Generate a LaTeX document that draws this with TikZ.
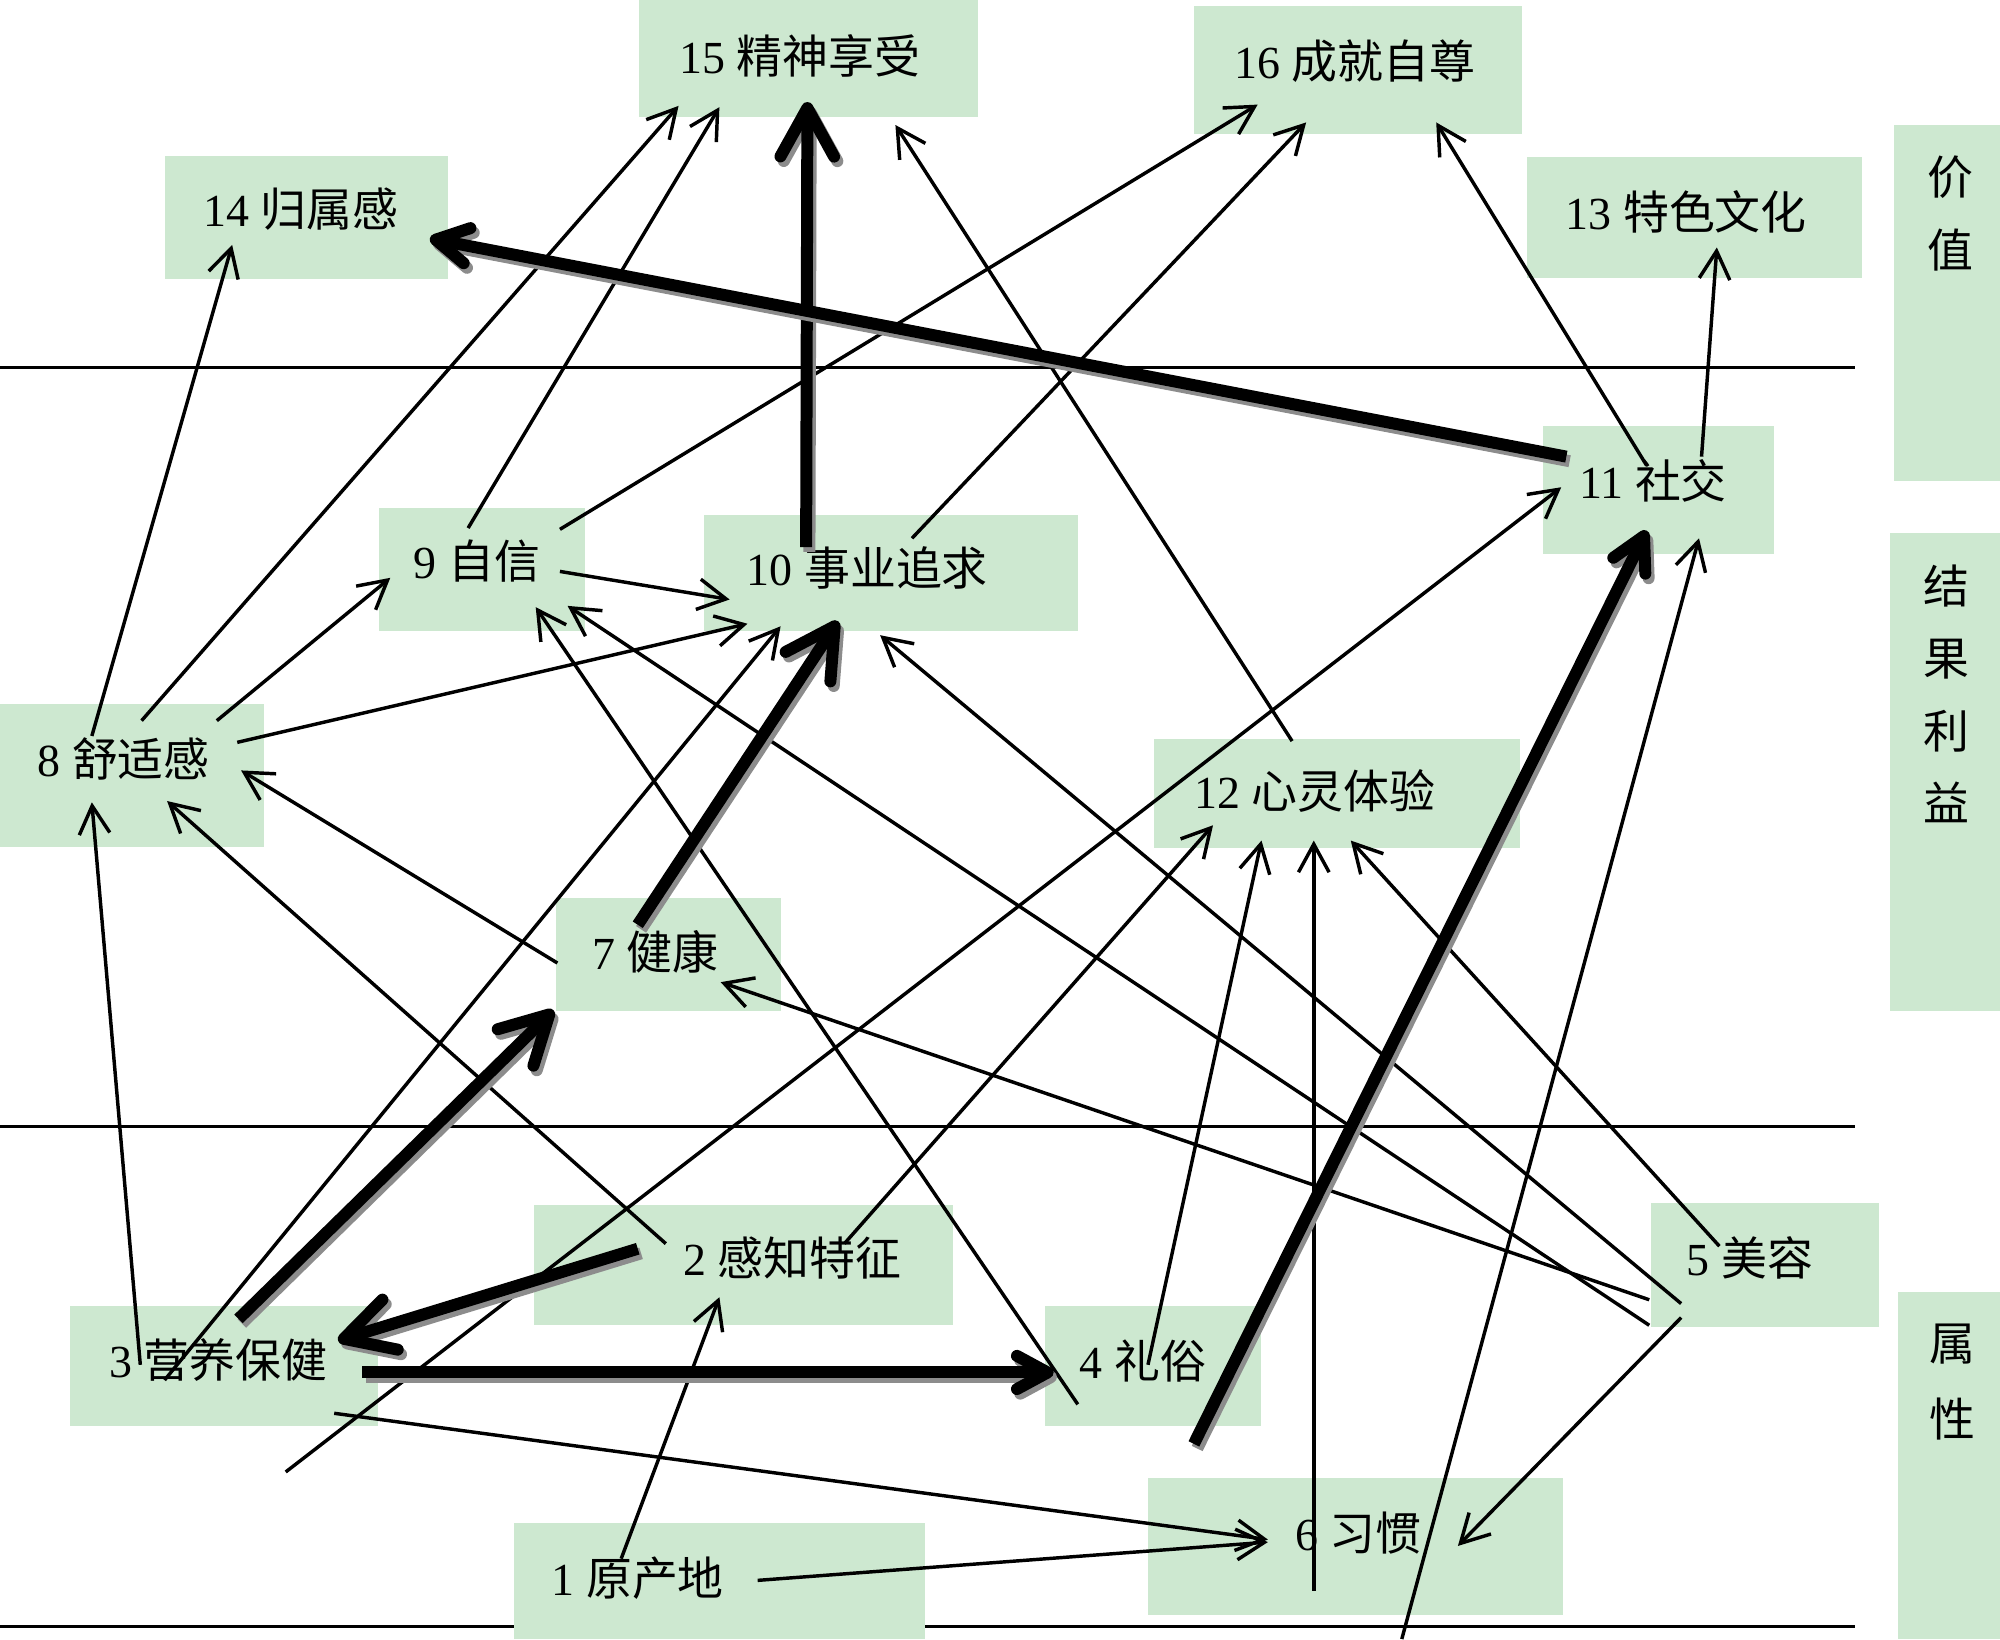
\documentclass[tikz,border=0pt]{standalone}
\usepackage{fontspec}
\setmainfont{Liberation Serif}
\newfontfamily\cjk{Noto Sans CJK SC}
\usetikzlibrary{arrows.meta}
\definecolor{boxgreen}{RGB}{205,232,208}
\definecolor{shadowgray}{RGB}{140,140,140}
\newcommand\mkbox[5]{\node[box, minimum width={(#4-#2)*0.5pt}, minimum height={(#5-#3)*0.5pt}] (#1) at (#2,#3) {};}
\newcommand\tharrow[3]{%
  \draw[thickline, #1, draw=shadowgray, transform canvas={shift={(1.3pt,-1.8pt)}}] #2 -- #3;
  \draw[thickline, #1] #2 -- #3;}
\begin{document}
\begin{tikzpicture}[x=0.5pt,y=-0.5pt,
  box/.style={fill=boxgreen, draw=none, inner sep=0pt, outer sep=0pt, anchor=north west},
  lbl/.style={inner sep=0pt, font=\fontsize{18}{20}\selectfont},
  vlbl/.style={inner sep=0pt, align=center},
  rule/.style={line width=1pt},
  thinarrow/.style={line width=1.35pt, -{Straight Barb[length=11pt,width=12pt]}},
  thickline/.style={line width=4.7pt}]
\useasboundingbox (0,0) rectangle (1568,1285);
% horizontal rules
\coordinate (r1a) at (0,288);   \coordinate (r1b) at (1454,288);
\coordinate (r2a) at (0,883);   \coordinate (r2b) at (1454,883);
\coordinate (r3a) at (0,1275);  \coordinate (r3b) at (1454,1275);
\draw[rule] (r1a) -- (r1b);
\draw[rule] (r2a) -- (r2b);
\draw[rule] (r3a) -- (r3b);
% boxes
\mkbox{b15}{501}{0}{767}{92}
\mkbox{b16}{936}{5}{1193}{105}
\mkbox{b14}{129}{122}{351}{219}
\mkbox{b13}{1197}{123}{1460}{218}
\mkbox{v1}{1485}{98}{1568}{377}
\mkbox{b11}{1210}{334}{1391}{434}
\mkbox{b9}{297}{398}{459}{495}
\mkbox{b10}{552}{404}{845}{495}
\mkbox{b8}{0}{552}{207}{664}
\mkbox{b12}{905}{579}{1192}{665}
\mkbox{v2}{1482}{418}{1568}{793}
\mkbox{b7}{436}{704}{612}{793}
\mkbox{b2}{419}{945}{747}{1039}
\mkbox{b5}{1294}{943}{1473}{1040}
\mkbox{b3}{55}{1024}{296}{1118}
\mkbox{b4}{819}{1024}{989}{1118}
\mkbox{b6}{900}{1159}{1225}{1266}
\mkbox{b1}{403}{1194}{725}{1285}
\mkbox{v3}{1488}{1013}{1568}{1285}
% labels
\node[lbl] (t15) at (627,44) {15 {\cjk 精神享受}};
\node[lbl] (t16) at (1062,48) {16 {\cjk 成就自尊}};
\node[lbl] (t14) at (236,164) {14 {\cjk 归属感}};
\node[lbl] (t13) at (1322,166) {13 {\cjk 特色文化}};
\node[lbl] (t11) at (1296,377) {11 {\cjk 社交}};
\node[lbl] (t9) at (374,440) {9 {\cjk 自信}};
\node[lbl] (t10) at (680,445) {10 {\cjk 事业追求}};
\node[lbl] (t8) at (97,595) {8 {\cjk 舒适感}};
\node[lbl] (t12) at (1031,620) {12 {\cjk 心灵体验}};
\node[lbl] (t7) at (514,746) {7 {\cjk 健康}};
\node[lbl] (t2) at (621,986) {2 {\cjk 感知特征}};
\node[lbl] (t5) at (1372,986) {5 {\cjk 美容}};
\node[lbl] (t3) at (171,1066) {3 {\cjk 营养保健}};
\node[lbl] (t4) at (896,1067) {4 {\cjk 礼俗}};
\node[lbl] (t6) at (1065,1202) {6 {\cjk 习惯}};
\node[lbl] (t1) at (500,1237) {1 {\cjk 原产地}};
\node[vlbl, font=\fontsize{18}{28.5}\selectfont\cjk] (vt1) at (1529,167.5) {价\\值};
\node[vlbl, font=\fontsize{18}{28.4}\selectfont\cjk] (vt2) at (1526,544) {结\\果\\利\\益};
\node[vlbl, font=\fontsize{18}{29.5}\selectfont\cjk] (vt3) at (1531,1083.5) {属\\性};
% free ends
\coordinate (f3) at (224,1154);
\coordinate (fb) at (1099,1285);
% thin arrows
\draw[thinarrow] ([shift={(72,25)}]b8.north west) -- ([shift={(53,70)}]b14.north west);
\draw[thinarrow] ([shift={(111,13)}]b8.north west) -- ([shift={(31,83)}]b15.north west);
\draw[thinarrow] ([shift={(70,16)}]b9.north west) -- ([shift={(63,84)}]b15.north west);
\draw[thinarrow] ([shift={(142,17)}]b9.north west) -- ([shift={(50,77)}]b16.north west);
\draw[thinarrow] ([shift={(163,18)}]b10.north west) -- ([shift={(88,91)}]b16.north west);
\draw[thinarrow] ([shift={(108,2)}]b12.north west) -- ([shift={(201,98)}]b15.north west);
\draw[thinarrow] ([shift={(81,31)}]b11.north west) -- ([shift={(190,91)}]b16.north west);
\draw[thinarrow] ([shift={(124,24)}]b11.north west) -- ([shift={(149,71)}]b13.north west);
\draw[thinarrow] ([shift={(170,13)}]b8.north west) -- ([shift={(9,55)}]b9.north west);
\draw[thinarrow] ([shift={(186,30)}]b8.north west) -- ([shift={(34,85)}]b10.north west);
\draw[thinarrow] ([shift={(142,50)}]b9.north west) -- ([shift={(20,66)}]b10.north west);
\draw[thinarrow] ([shift={(74,58)}]b3.north west) -- ([shift={(60,87)}]b10.north west);
\draw[thinarrow] ([shift={(55,46)}]b3.north west) -- ([shift={(72,77)}]b8.north west);
\draw[thinarrow] ([shift={(103,30)}]b2.north west) -- ([shift={(131,76)}]b8.north west);
\draw[thinarrow] ([shift={(1,51)}]b7.north west) -- ([shift={(189,52)}]b8.north west);
\draw[thinarrow] ([shift={(26,77)}]b4.north west) -- ([shift={(123,78)}]b9.north west);
\draw[thinarrow] ([shift={(-1,96)}]b5.north west) -- ([shift={(148,77)}]b9.north west);
\draw[thinarrow] ([shift={(24,79)}]b5.north west) -- ([shift={(138,94)}]b10.north west);
\draw[thinarrow] ([shift={(-1,76)}]b5.north west) -- ([shift={(129,66)}]b7.north west);
\draw[thinarrow] ([shift={(54,34)}]b5.north west) -- ([shift={(154,80)}]b12.north west);
\draw[thinarrow] ([shift={(24,90)}]b5.north west) -- ([shift={(243,53)}]b6.north west);
\draw[thinarrow] ([shift={(81,46)}]b4.north west) -- ([shift={(84,80)}]b12.north west);
\draw[thinarrow] ([shift={(130,88)}]b6.north west) -- ([shift={(125,80)}]b12.north west);
\draw[thinarrow] ([shift={(243,30)}]b2.north west) -- ([shift={(46,68)}]b12.north west);
\draw[thinarrow] ([shift={(84,28)}]b1.north west) -- ([shift={(145,72)}]b2.north west);
\draw[thinarrow] ([shift={(191,45)}]b1.north west) -- ([shift={(94,50)}]b6.north west);
\draw[thinarrow] ([shift={(207,84)}]b3.north west) -- ([shift={(94,48)}]b6.north west);
\draw[thinarrow] (f3) -- ([shift={(14,48)}]b11.north west);
\draw[thinarrow] (fb) -- ([shift={(122,88)}]b11.north west);
% thick arrows
\tharrow{-{Straight Barb[length=19pt,width=21pt,round]}}{([shift={(80,25)}]b10.north west)}{([shift={(132,80)}]b15.north west)}
\tharrow{-{Straight Barb[length=12.5pt,width=14pt,round]}}{([shift={(18,24)}]b11.north west)}{([shift={(208,65)}]b14.north west)}
\tharrow{-{Straight Barb[length=19pt,width=21pt,round]}}{([shift={(64,21)}]b7.north west)}{([shift={(105,83)}]b10.north west)}
\tharrow{-{Straight Barb[length=18.5pt,width=20pt,round]}}{([shift={(132,10)}]b3.north west)}{([shift={(-2,88)}]b7.north west)}
\tharrow{-{Straight Barb[length=19pt,width=20.5pt,round]}}{([shift={(81,34)}]b2.north west)}{([shift={(210,27)}]b3.north west)}
\tharrow{-{Straight Barb[length=12pt,width=13pt,round]}}{([shift={(229,52)}]b3.north west)}{([shift={(7,52)}]b4.north west)}
\tharrow{-{Straight Barb[length=13pt,width=14pt,round]}}{([shift={(117,108)}]b4.north west)}{([shift={(81,82)}]b11.north west)}
\end{tikzpicture}
\end{document}
